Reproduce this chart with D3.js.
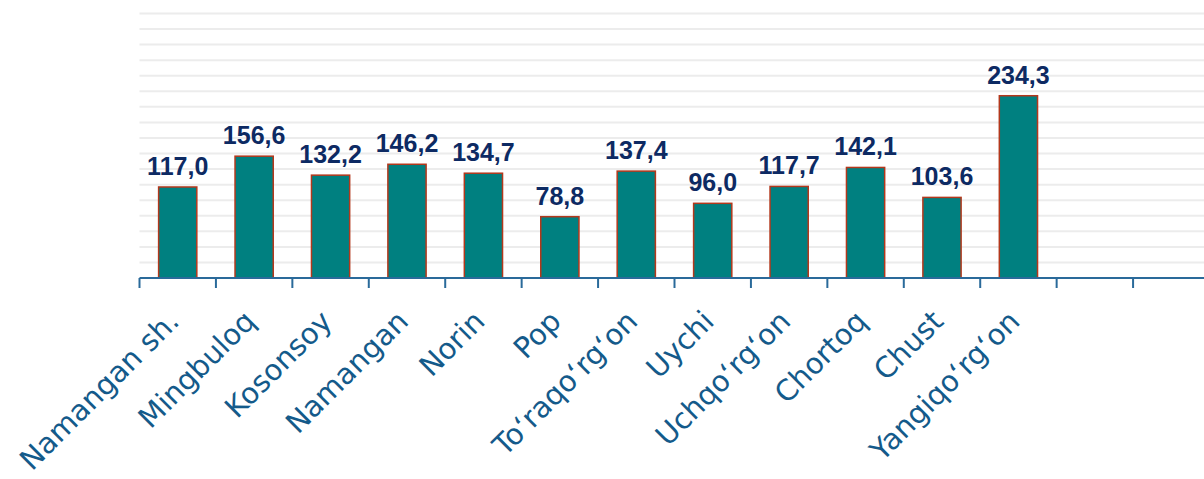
<!DOCTYPE html>
<html>
<head>
<meta charset="utf-8">
<script src="https://cdn.jsdelivr.net/npm/d3@7"></script>
<style>
  body { margin: 0; background: #fff; }
  .value-label { font-family: "Liberation Sans", Arial, sans-serif; font-weight: bold; font-size: 25px; fill: #0d2a63; }
  .cat-label { font-family: "DejaVu Sans", sans-serif; font-size: 29px; fill: #145a8a; }
</style>
</head>
<body>
<div class="barchart"></div>
<script>
const districts = ["Namangan sh.", "Mingbuloq", "Kosonsoy", "Namangan", "Norin", "Pop",
  "To‘raqo‘rg‘on", "Uychi", "Uchqo‘rg‘on", "Chortoq", "Chust", "Yangiqo‘rg‘on"];
const values = [117.0, 156.6, 132.2, 146.2, 134.7, 78.8, 137.4, 96.0, 117.7, 142.1, 103.6, 234.3];
const slotCount = 14; // two empty category slots at the right
const yMax = 340;
const yStep = 20;

const width = 1204, height = 479;
const margin = { top: 13.5, left: 139.5 };
const plotBottom = 278;
const plotRight = 1209.5;

const svg = d3.select(".barchart")
  .append("svg")
  .attr("width", width)
  .attr("height", height);

const slots = d3.range(slotCount);

const x = d3.scaleBand()
  .domain(slots)
  .range([margin.left, plotRight])
  .paddingInner(0.5)
  .paddingOuter(0.25);

const y = d3.scaleLinear()
  .domain([0, yMax])
  .range([plotBottom, margin.top]);

// horizontal gridlines
svg.append("g")
  .selectAll("line")
  .data(d3.range(yStep, yMax + 1, yStep))
  .enter()
  .append("line")
  .attr("x1", margin.left)
  .attr("x2", width)
  .attr("y1", d => y(d))
  .attr("y2", d => y(d))
  .attr("stroke", "#ececec")
  .attr("stroke-width", 2);

// bars
svg.append("g")
  .selectAll("rect")
  .data(values)
  .enter()
  .append("rect")
  .attr("x", (d, i) => x(i))
  .attr("y", d => y(d))
  .attr("width", x.bandwidth())
  .attr("height", d => plotBottom - y(d))
  .attr("fill", "#008080")
  .attr("stroke", "#b3381c")
  .attr("stroke-width", 1.5);

// value labels
svg.append("g")
  .selectAll("text")
  .data(values)
  .enter()
  .append("text")
  .attr("class", "value-label")
  .attr("x", (d, i) => x(i) + x.bandwidth() / 2)
  .attr("y", d => y(d) - 12)
  .attr("text-anchor", "middle")
  .text(d => d3.format(".1f")(d).replace(".", ","));

// x axis line and ticks between categories
const step = x.step();
const tickX = i => margin.left + i * step;

svg.append("line")
  .attr("x1", margin.left)
  .attr("x2", width)
  .attr("y1", plotBottom)
  .attr("y2", plotBottom)
  .attr("stroke", "#2a6a9a")
  .attr("stroke-width", 2);

svg.append("g")
  .selectAll("line")
  .data(d3.range(slotCount))
  .enter()
  .append("line")
  .attr("x1", d => tickX(d))
  .attr("x2", d => tickX(d))
  .attr("y1", plotBottom)
  .attr("y2", plotBottom + 10)
  .attr("stroke", "#2a6a9a")
  .attr("stroke-width", 2);

// rotated category labels
svg.append("g")
  .selectAll("text")
  .data(districts)
  .enter()
  .append("text")
  .attr("class", "cat-label")
  .attr("text-anchor", "end")
  .attr("transform", (d, i) => {
    const cx = x(i) + x.bandwidth() / 2 + 3;
    return "translate(" + cx + "," + (plotBottom + 45) + ") rotate(-45)";
  })
  .text(d => d);
</script>
</body>
</html>
